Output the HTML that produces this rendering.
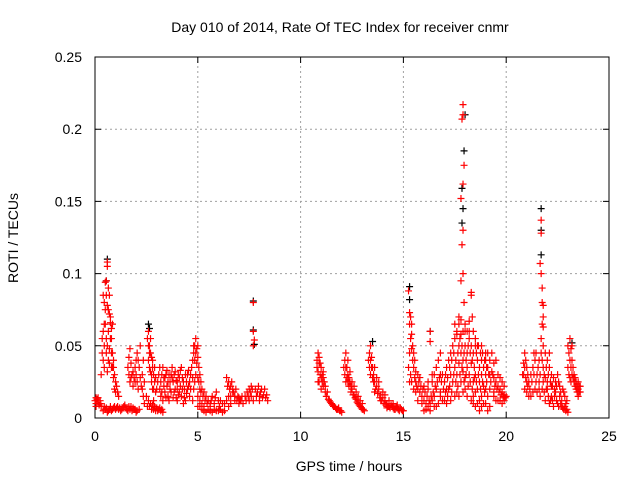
<!DOCTYPE html>
<html><head><meta charset="utf-8"><style>
body{margin:0;background:#fff;}
svg{display:block;font-family:"Liberation Sans",sans-serif;}
</style></head><body>
<svg id="chart" width="640" height="480" viewBox="0 0 640 480">
<rect width="640" height="480" fill="#fff"/>
<text x="340" y="32" font-size="14" text-anchor="middle">Day 010 of 2014, Rate Of TEC Index for receiver cnmr</text>
<text x="349" y="471" font-size="14" text-anchor="middle">GPS time / hours</text>
<text transform="translate(18,238) rotate(-90)" font-size="14" text-anchor="middle">ROTI / TECUs</text>
<g id="grid"></g><g id="axes"></g><g id="marks"></g>
</svg>
<script>
const xTicks=[0,5,10,15,20,25];
const yTicks=[0,0.05,0.1,0.15,0.2,0.25];
const yTickLabels=["0","0.05","0.1","0.15","0.2","0.25"];
const blackPoints=[[0.55,0.095],[0.6,0.11],[2.6,0.065],[2.65,0.062],[7.7,0.081],[7.7,0.061],[7.75,0.051],[15.3,0.091],[15.3,0.082],[17.85,0.159],[17.95,0.185],[17.85,0.135],[17.9,0.145],[18.0,0.21],[21.7,0.145],[21.7,0.13],[21.7,0.113],[13.5,0.053],[16.3,0.06],[23.2,0.052]];
const redPoints=[
[0.0,0.012],[0.05,0.01],[0.1,0.013],[0.15,0.011],[0.2,0.009],[0.25,0.01],[0.3,0.008],[0.05,0.014],
[0.3,0.03],[0.35,0.045],[0.4,0.06],[0.45,0.065],[0.5,0.075],[0.5,0.094],[0.55,0.095],[0.6,0.108],[0.6,0.105],[0.65,0.09],[0.7,0.085],[0.7,0.072],[0.75,0.066],[0.8,0.062],[0.8,0.055],[0.85,0.045],[0.9,0.04],[0.9,0.035],[0.95,0.03],[1.0,0.025],[1.05,0.022],[1.1,0.018],[1.15,0.015],[0.45,0.05],[0.55,0.055],[0.65,0.06],[0.75,0.07],[0.4,0.04],[0.35,0.055],[0.85,0.065],[0.95,0.02],[0.7,0.048],
[0.4,0.005],[0.5,0.006],[0.6,0.004],[0.7,0.006],[0.8,0.005],[0.9,0.007],[1.0,0.006],[1.1,0.008],[1.2,0.007],[1.3,0.006],[1.4,0.008],[1.5,0.007],[1.6,0.005],[1.7,0.006],[1.8,0.005],[1.9,0.006],[2.0,0.004],[1.25,0.005],[1.45,0.009],[1.75,0.008],
[1.6,0.035],[1.65,0.042],[1.7,0.048],[1.75,0.038],[1.8,0.03],[1.85,0.032],[1.9,0.028],[1.95,0.025],[2.0,0.03],[2.05,0.045],[2.1,0.04],[2.15,0.035],[2.2,0.028],[2.25,0.022],[2.3,0.02],[2.35,0.015],[2.4,0.01],[1.7,0.025],[2.2,0.05],
[2.5,0.015],[2.6,0.012],[2.7,0.01],[2.8,0.009],[2.9,0.008],[3.0,0.007],[3.1,0.006],[3.2,0.005],[3.3,0.004],[2.55,0.008],[2.75,0.006],[2.95,0.005],
[2.55,0.055],[2.6,0.06],[2.65,0.05],[2.7,0.045],[2.75,0.042],[2.8,0.035],[2.85,0.03],[2.9,0.025],[2.95,0.028],[2.6,0.04],[2.7,0.032],[2.8,0.02],
[3.0,0.02],[3.1,0.03],[3.2,0.025],[3.3,0.035],[3.4,0.028],[3.5,0.022],[3.6,0.03],[3.7,0.018],[3.8,0.025],[3.9,0.032],[4.0,0.02],[4.1,0.028],[4.2,0.015],[4.3,0.025],[4.4,0.03],[4.5,0.02],[3.2,0.015],[3.4,0.018],[3.6,0.012],[3.8,0.014],[4.0,0.012],[4.2,0.035],[4.4,0.012],[4.6,0.015],[3.5,0.033],[3.9,0.02],[4.3,0.01],[3.3,0.012],[3.7,0.03],[4.1,0.018],
[4.5,0.03],[4.6,0.025],[4.7,0.035],[4.8,0.045],[4.85,0.05],[4.9,0.055],[4.95,0.048],[5.0,0.042],[5.05,0.035],[5.1,0.03],[5.15,0.025],[5.2,0.02],[5.3,0.018],[5.4,0.015],[5.5,0.012],[5.6,0.01],[4.8,0.02],[5.0,0.015],[5.2,0.01],
[5.0,0.008],[5.2,0.006],[5.4,0.004],[5.6,0.005],[5.8,0.006],[6.0,0.005],[6.2,0.004],[5.5,0.012],[5.7,0.015],[5.9,0.018],[6.1,0.012],[6.3,0.01],[6.5,0.008],[5.3,0.008],
[6.4,0.028],[6.5,0.025],[6.6,0.022],[6.7,0.02],[6.8,0.015],[6.9,0.012],[7.0,0.014],[7.1,0.012],[7.2,0.01],[6.5,0.015],[6.7,0.018],
[7.7,0.08],[7.7,0.06],[7.75,0.054],[7.7,0.05],
[7.3,0.015],[7.4,0.018],[7.5,0.02],[7.6,0.015],[7.7,0.012],[7.8,0.02],[7.9,0.018],[8.0,0.015],[8.1,0.02],[8.2,0.016],[8.3,0.014],[8.4,0.012],[7.6,0.022],
[10.8,0.04],[10.85,0.045],[10.9,0.042],[10.95,0.038],[11.0,0.035],[11.05,0.03],[11.1,0.032],[10.85,0.025],[11.15,0.025],[11.2,0.022],[11.3,0.018],[11.4,0.012],[11.5,0.01],[11.6,0.008],[11.7,0.007],[11.8,0.006],[11.9,0.005],[12.0,0.004],[11.0,0.02],
[12.1,0.035],[12.15,0.04],[12.2,0.045],[12.25,0.035],[12.3,0.03],[12.35,0.028],[12.4,0.025],[12.45,0.022],[12.5,0.02],[12.6,0.016],[12.7,0.013],[12.8,0.01],[12.9,0.008],[13.0,0.006],[13.1,0.005],[12.2,0.025],[12.4,0.032],
[13.3,0.04],[13.35,0.045],[13.4,0.05],[13.45,0.042],[13.5,0.035],[13.55,0.03],[13.6,0.025],[13.4,0.03],[13.6,0.018],[13.7,0.022],[13.8,0.02],[13.9,0.016],[14.0,0.014],[14.1,0.012],[14.2,0.01],[14.3,0.008],[14.4,0.009],[14.5,0.007],[14.6,0.006],[14.7,0.007],[14.8,0.005],[14.9,0.006],[15.0,0.005],[13.9,0.012],[14.2,0.007],
[15.25,0.088],[15.3,0.073],[15.35,0.07],[15.4,0.065],[15.4,0.058],[15.45,0.05],[15.5,0.045],[15.55,0.04],[15.3,0.045],[15.25,0.035],[15.3,0.025],[15.6,0.032],
[15.6,0.025],[15.7,0.02],[15.8,0.018],[15.9,0.015],[16.0,0.012],[16.1,0.01],[16.2,0.008],[16.3,0.01],[16.4,0.012],[16.5,0.015],[15.8,0.028],[16.0,0.022],[16.2,0.02],[16.4,0.025],[16.6,0.02],[16.8,0.018],[16.0,0.005],[16.6,0.008],
[16.3,0.06],[16.3,0.053],
[16.5,0.03],[16.6,0.035],[16.7,0.04],[16.8,0.045],[16.9,0.03],[17.0,0.025],[17.1,0.035],[17.2,0.04],[17.3,0.045],[17.4,0.05],[17.5,0.055],[17.5,0.065],[17.6,0.06],[17.7,0.05],[17.8,0.045],[17.9,0.04],[18.0,0.05],[18.1,0.045],[18.2,0.055],[18.3,0.05],[18.4,0.045],[18.5,0.05],[18.6,0.04],[18.7,0.035],[18.8,0.04],[18.9,0.035],[19.0,0.03],
[16.8,0.015],[17.0,0.012],[17.2,0.02],[17.4,0.025],[17.6,0.03],[17.8,0.025],[18.0,0.02],[18.2,0.03],[18.4,0.025],[18.6,0.02],[18.8,0.015],[19.0,0.01],[19.2,0.008],[18.5,0.008],[18.7,0.005],[19.1,0.015],
[17.1,0.02],[17.3,0.03],[17.5,0.035],[17.7,0.038],[17.9,0.032],[18.1,0.035],[18.3,0.038],[18.5,0.03],[18.7,0.025],[18.9,0.022],[17.6,0.018],[18.0,0.028],[18.4,0.015],[18.8,0.03],
[17.9,0.217],[17.9,0.21],[17.85,0.207],[17.95,0.175],[17.9,0.162],[17.8,0.152],[17.9,0.13],[17.85,0.12],[17.9,0.1],[17.8,0.095],[17.95,0.08],[17.7,0.07],[17.8,0.068],[18.0,0.06],[18.3,0.087],[18.3,0.085],[18.35,0.07],[18.4,0.06],[17.6,0.058],[18.2,0.067],
[19.0,0.04],[19.1,0.035],[19.2,0.03],[19.3,0.032],[19.4,0.028],[19.5,0.025],[19.6,0.022],[19.7,0.02],[19.8,0.018],[19.9,0.016],[20.0,0.015],[19.4,0.018],[19.6,0.012],[19.8,0.01],[19.3,0.045],[19.5,0.04],
[20.8,0.03],[20.85,0.038],[20.9,0.045],[20.95,0.04],[21.0,0.035],[21.05,0.03],[21.1,0.025],[21.2,0.03],[21.3,0.035],[21.4,0.04],[21.5,0.03],[21.6,0.025],[20.9,0.02],[21.1,0.015],[21.3,0.018],
[21.7,0.137],[21.7,0.128],[21.65,0.107],[21.7,0.1],[21.75,0.09],[21.75,0.08],[21.8,0.078],[21.8,0.07],[21.75,0.065],[21.8,0.063],[21.7,0.055],[21.8,0.05],
[21.6,0.04],[21.7,0.045],[21.8,0.035],[21.9,0.045],[22.0,0.04],[22.1,0.035],[22.2,0.03],[22.3,0.028],[22.4,0.025],[21.6,0.02],[21.8,0.025],[22.0,0.02],[22.2,0.015],[22.4,0.018],[22.6,0.015],[21.9,0.012],[22.1,0.01],[22.3,0.008],[22.5,0.01],[22.7,0.008],[22.8,0.006],[22.9,0.005],[23.0,0.004],[22.6,0.022],[22.8,0.018],[22.5,0.03],[22.7,0.012],[22.9,0.01],
[23.0,0.05],[23.1,0.055],[23.15,0.048],[23.2,0.04],[23.25,0.035],[23.3,0.03],[23.35,0.028],[23.4,0.025],[23.45,0.022],[23.5,0.02],[23.55,0.018],[23.6,0.022],[23.0,0.035],[23.1,0.028],[23.5,0.015]
];
const extraPoints=[
[0.05,0.008],[0.15,0.014],[0.25,0.012],[0.45,0.008],[0.55,0.007],[0.65,0.005],[0.75,0.008],[0.85,0.006],[0.95,0.008],[1.05,0.007],[1.15,0.006],[1.35,0.007],[1.55,0.006],[1.65,0.008],[1.85,0.007],[1.95,0.006],[2.05,0.005],[2.15,0.006],
[0.4,0.085],[0.45,0.08],[0.55,0.085],[0.6,0.078],[0.65,0.075],[0.5,0.065],[0.55,0.045],[0.6,0.05],[0.65,0.04],[0.75,0.055],[0.8,0.045],[0.85,0.035],[0.9,0.028],[1.0,0.018],[0.8,0.035],[0.7,0.038],[0.6,0.032],[0.45,0.035],
[1.65,0.03],[1.75,0.028],[1.85,0.022],[1.95,0.035],[2.05,0.025],[2.1,0.02],[2.3,0.03],[2.4,0.025],[2.35,0.04],[2.0,0.04],
[2.6,0.05],[2.65,0.045],[2.7,0.055],[2.75,0.03],[2.8,0.04],[2.85,0.02],[2.9,0.035],[2.95,0.018],[2.65,0.035],[2.75,0.025],[2.85,0.012],[2.65,0.008],[2.85,0.006],[3.05,0.005],[3.15,0.007],[3.25,0.006],
[3.05,0.025],[3.15,0.02],[3.25,0.03],[3.35,0.022],[3.45,0.03],[3.55,0.025],[3.65,0.02],[3.75,0.028],[3.85,0.018],[3.95,0.026],[4.05,0.03],[4.15,0.022],[4.25,0.028],[4.35,0.02],[4.45,0.025],[4.55,0.022],[4.65,0.03],[4.75,0.028],[3.25,0.018],[3.45,0.014],[3.65,0.025],[3.85,0.03],[4.05,0.016],[4.25,0.02],[4.45,0.017],[4.65,0.02],[4.75,0.012],[3.55,0.015],[3.95,0.014],[4.35,0.014],[3.15,0.035],[3.75,0.035],[4.15,0.033],[4.55,0.033],[3.35,0.028],[4.0,0.025],
[4.75,0.04],[4.8,0.05],[4.85,0.04],[4.9,0.045],[4.95,0.038],[5.0,0.05],[5.05,0.025],[5.1,0.02],[5.15,0.018],[5.25,0.015],[5.35,0.012],[5.45,0.01],[4.9,0.03],[5.0,0.028],[4.85,0.025],[5.1,0.012],
[5.1,0.008],[5.3,0.005],[5.5,0.006],[5.7,0.004],[5.9,0.005],[6.1,0.006],[6.3,0.005],[5.6,0.008],[5.8,0.01],[6.0,0.012],[6.2,0.01],[6.4,0.012],[6.6,0.01],[5.65,0.012],[5.85,0.014],[6.05,0.008],
[6.45,0.022],[6.55,0.02],[6.65,0.025],[6.75,0.018],[6.85,0.02],[6.95,0.015],[7.05,0.012],[7.15,0.015],[6.6,0.015],[6.8,0.012],[7.0,0.01],
[7.35,0.012],[7.45,0.015],[7.55,0.018],[7.65,0.02],[7.85,0.015],[7.95,0.022],[8.05,0.018],[8.15,0.014],[8.25,0.02],[8.35,0.016],[7.5,0.012],[8.0,0.012],
[10.8,0.035],[10.85,0.032],[10.9,0.038],[10.95,0.03],[11.0,0.028],[11.05,0.025],[11.1,0.022],[11.2,0.018],[11.25,0.015],[11.35,0.013],[11.45,0.011],[11.55,0.009],[11.65,0.008],[11.75,0.006],[11.85,0.007],[11.95,0.005],[10.9,0.025],[11.1,0.028],
[12.15,0.03],[12.2,0.035],[12.25,0.028],[12.3,0.025],[12.35,0.022],[12.45,0.018],[12.55,0.016],[12.65,0.014],[12.75,0.011],[12.85,0.009],[12.95,0.007],[13.05,0.006],[12.3,0.04],[12.5,0.025],[12.6,0.022],[12.7,0.018],[12.8,0.015],[12.9,0.012],[13.0,0.01],
[13.35,0.035],[13.4,0.04],[13.45,0.035],[13.5,0.028],[13.55,0.025],[13.65,0.02],[13.75,0.017],[13.85,0.014],[13.95,0.012],[14.05,0.01],[14.15,0.009],[14.25,0.008],[14.35,0.007],[14.45,0.008],[14.55,0.006],[14.65,0.008],[14.75,0.006],[14.85,0.007],[14.95,0.005],[13.6,0.035],[13.7,0.028],[13.8,0.025],[14.0,0.018],[14.1,0.016],[14.3,0.012],[14.5,0.01],[14.7,0.009],
[15.3,0.065],[15.35,0.055],[15.4,0.048],[15.45,0.04],[15.5,0.035],[15.35,0.03],[15.4,0.025],[15.5,0.02],[15.55,0.028],[15.6,0.018],[15.65,0.022],[15.7,0.03],[15.75,0.025],[15.85,0.022],[15.95,0.02],[16.05,0.018],[16.15,0.015],[16.25,0.012],[16.35,0.015],[16.45,0.018],[16.55,0.022],[16.65,0.025],[16.75,0.028],[16.85,0.025],[16.95,0.02],[15.9,0.01],[16.1,0.006],[16.3,0.005],[16.5,0.008],[16.7,0.01],[16.9,0.012],[15.7,0.012],[16.2,0.025],[16.4,0.03],[16.8,0.03],
[17.05,0.03],[17.15,0.028],[17.25,0.035],[17.35,0.04],[17.45,0.045],[17.55,0.04],[17.65,0.045],[17.75,0.055],[17.85,0.05],[17.95,0.045],[18.05,0.04],[18.15,0.05],[18.25,0.045],[18.35,0.04],[18.45,0.035],[18.55,0.045],[18.65,0.05],[18.75,0.045],[18.85,0.045],[18.95,0.04],
[17.05,0.018],[17.15,0.015],[17.25,0.022],[17.35,0.018],[17.45,0.03],[17.55,0.025],[17.65,0.022],[17.75,0.03],[17.85,0.035],[17.95,0.025],[18.05,0.03],[18.15,0.022],[18.25,0.025],[18.35,0.02],[18.45,0.028],[18.55,0.025],[18.65,0.03],[18.75,0.02],[18.85,0.025],[18.95,0.018],
[17.1,0.01],[17.3,0.012],[17.5,0.015],[17.7,0.015],[17.9,0.018],[18.1,0.015],[18.3,0.012],[18.5,0.018],[18.7,0.012],[18.9,0.01],[19.1,0.005],[18.6,0.01],[18.8,0.008],[18.4,0.01],[19.0,0.02],[19.05,0.025],
[17.8,0.058],[17.9,0.06],[18.0,0.065],[18.1,0.06],[17.7,0.065],[18.5,0.055],[18.6,0.05],[18.2,0.06],[18.8,0.05],[19.0,0.045],
[19.05,0.035],[19.15,0.03],[19.25,0.025],[19.35,0.03],[19.45,0.022],[19.55,0.02],[19.65,0.018],[19.75,0.016],[19.85,0.015],[19.95,0.014],[19.2,0.02],[19.4,0.015],[19.5,0.012],[19.7,0.012],[19.9,0.012],[19.1,0.045],[19.2,0.04],[19.4,0.038],[19.6,0.03],[19.7,0.028],[19.8,0.025],[19.9,0.022],
[20.85,0.03],[20.9,0.035],[20.95,0.028],[21.0,0.025],[21.05,0.022],[21.15,0.02],[21.25,0.025],[21.35,0.03],[21.45,0.025],[21.55,0.035],[21.0,0.018],[21.2,0.015],[21.4,0.02],[21.5,0.018],[21.35,0.045],[21.45,0.045],
[21.65,0.03],[21.75,0.04],[21.85,0.03],[21.95,0.035],[22.05,0.03],[22.15,0.025],[22.25,0.022],[22.35,0.02],[22.45,0.022],[22.55,0.025],[21.65,0.015],[21.75,0.02],[21.85,0.018],[21.95,0.02],[22.05,0.015],[22.15,0.012],[22.25,0.012],[22.35,0.015],[22.45,0.012],[22.55,0.008],[22.65,0.01],[22.75,0.007],[22.85,0.008],[22.95,0.006],[22.65,0.018],[22.75,0.02],[22.85,0.015],[22.95,0.012],[22.0,0.025],[22.2,0.022],[21.9,0.028],[22.1,0.045],
[23.05,0.045],[23.1,0.04],[23.15,0.035],[23.2,0.03],[23.25,0.028],[23.3,0.025],[23.35,0.022],[23.4,0.02],[23.45,0.018],[23.5,0.025],[23.55,0.022],[23.6,0.018],[23.05,0.03],[23.15,0.025],[23.2,0.05]
];
const X0=95,X1=609,Y0=418,Y1=57;
const sx=h=>X0+(h/25)*(X1-X0);
const sy=v=>Y0-(v/0.25)*(Y0-Y1);
const NS="http://www.w3.org/2000/svg";
const grid=document.getElementById('grid'),axes=document.getElementById('axes'),marks=document.getElementById('marks');
function mk(tag,attrs,parent){const e=document.createElementNS(NS,tag);for(const k in attrs)e.setAttribute(k,attrs[k]);parent.appendChild(e);return e;}
xTicks.forEach((t,i)=>{
  const x=sx(t);
  if(i>0&&i<xTicks.length-1){const g=mk('line',{x1:x,x2:x,y1:Y0,y2:Y1,stroke:'#a0a0a0','stroke-dasharray':'2,3','stroke-width':1},grid);
  
  }
  const tk=mk('path',{d:`M${x},${Y0}v-6M${x},${Y1}v6`,stroke:'#000'},axes);
  
  
  const lb=mk('text',{x:x,y:Y0+23,'font-size':14,'text-anchor':'middle'},axes);lb.textContent=t;
  
  
});
yTicks.forEach((t,i)=>{
  const y=sy(t);
  if(i>0&&i<yTicks.length-1){const g=mk('line',{x1:X0,x2:X1,y1:y,y2:y,stroke:'#a0a0a0','stroke-dasharray':'2,3','stroke-width':1},grid);
  
  }
  const tk=mk('path',{d:`M${X0},${y}h6M${X1},${y}h-6`,stroke:'#000'},axes);
  
  
  const lb=mk('text',{x:X0-13,y:y+5,'font-size':14,'text-anchor':'end'},axes);lb.textContent=yTickLabels[i];
  
  
});
const frame=mk('rect',{x:X0,y:Y1,width:X1-X0,height:Y0-Y1,fill:'none',stroke:'#000'},axes);


function plus(p,color){
  const x=sx(p[0]),y=sy(p[1]);
  return mk('path',{d:`M${x-3.5},${y}h7M${x},${y-3.5}v7`,stroke:color,'stroke-width':1.2,fill:'none'},marks);
}
blackPoints.forEach(p=>{const m=plus(p,'#000');
  
  });
redPoints.concat(extraPoints).forEach(p=>{const m=plus(p,'#ff0000');
  
  });
</script>
</body></html>
